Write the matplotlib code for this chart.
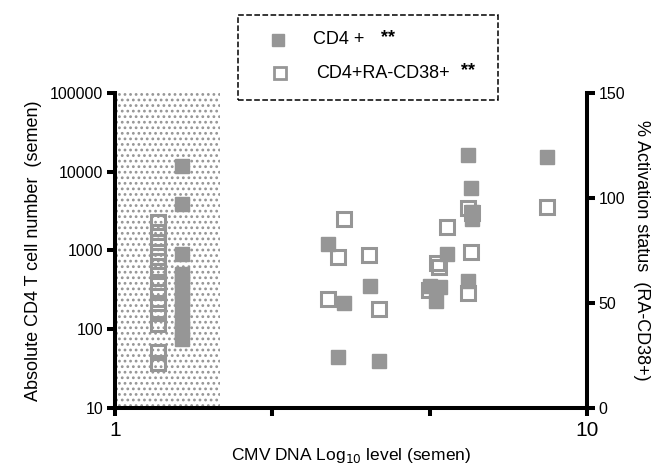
import numpy as np
import matplotlib.pyplot as plt
from matplotlib.patches import Rectangle
from matplotlib.lines import Line2D

plt.rcParams['font.family'] = ['Liberation Sans', 'DejaVu Sans']
plt.rcParams['hatch.linewidth'] = 1.2

# Datos: CD4+ absoluto (eje izquierdo, log)
cd4_x = [2.28] * 11 + [7.73, 9.24, 7.79, 7.81, 7.81, 5.06, 7.33, 5.86,
                       7.01, 7.20, 7.12, 7.73, 5.37, 5.25, 6.03]
cd4_y = [12000, 3900, 900, 500, 410, 300, 240, 180, 130, 100, 75,
         16200, 15600, 6300, 3100, 2500, 1200, 900, 350,
         350, 340, 226, 410, 213, 44, 39]

# Datos: % CD4+RA-CD38+ (eje derecho, lineal)
act_x = [1.82] * 13 + [9.24, 7.73, 7.81, 5.37, 7.33, 5.25, 5.84, 7.79,
                       7.14, 7.18, 6.99, 7.73, 5.06, 6.03]
act_y = [88.5, 84, 79, 74.5, 70, 65, 60, 55, 50, 45, 40, 26.7, 21.4,
         95.7, 95.2, 92.9, 90, 86.2, 71.9, 72.9, 74.3,
         69, 67.1, 56.2, 54.8, 51.9, 47.1]

# Zona bajo el límite de detección
zona = (1, 3)

gris = '#969696'

fig = plt.figure(figsize=(6.59, 4.76), dpi=100)
ax = fig.add_axes([0.1745, 0.1429, 0.7162, 0.6617])
ax2 = ax.twinx()

ax.axvspan(zona[0], zona[1], facecolor='white', edgecolor='#959595',
           hatch='...', linewidth=0, zorder=0)

ax.plot(cd4_x, cd4_y, 's', color=gris, ms=9.5, mec=gris, zorder=3)
ax2.plot(act_x, act_y, 's', mfc='none', mec=gris, ms=9.5, mew=2.2, zorder=3)

ax.set_xlim(1, 10)
ax.set_yscale('log')
ax.set_ylim(10, 100000)
ax.set_yticks([10, 100, 1000, 10000, 100000])
ax.set_yticklabels(['10', '100', '1000', '10000', '100000'])
ax.minorticks_off()
ax.set_xticks([1, 4, 7, 10])
ax.set_xticklabels(['1', '', '', '10'])

ax2.set_ylim(0, 150)
ax2.set_yticks([0, 50, 100, 150])

for a in (ax, ax2):
    a.spines['top'].set_visible(False)
    for s in a.spines.values():
        s.set_linewidth(2.9)
    a.tick_params(width=2.9, length=5.5, direction='out', labelsize=11.5, pad=3)
ax.spines['right'].set_visible(False)
ax2.spines['left'].set_visible(False)
ax2.spines['bottom'].set_visible(False)
ax.tick_params(axis='x', labelsize=15, pad=4)

ax.set_xlabel('CMV DNA Log$_{10}$ level (semen)', fontsize=12.5, labelpad=4)
ax.set_ylabel('Absolute CD4 T cell number  (semen)', fontsize=13, labelpad=6)
ax2.set_ylabel('% Activation status  (RA-CD38+)', fontsize=13,
               rotation=270, labelpad=18)

# Leyenda con borde discontinuo
fig.add_artist(Rectangle((0.361, 0.790), 0.3945, 0.1786, transform=fig.transFigure,
                         fill=False, ls='--', lw=1.1, ec='black'))
fig.add_artist(Line2D([0.4219], [0.916], marker='s', color=gris, ms=8,
                      transform=fig.transFigure))
fig.add_artist(Line2D([0.4249], [0.8466], marker='s', mfc='none', mec=gris,
                      ms=8, mew=2, transform=fig.transFigure))
fig.text(0.475, 0.916, 'CD4 +', fontsize=13, va='center')
fig.text(0.578, 0.922, '**', fontsize=13, va='center', fontweight='bold')
fig.text(0.4795, 0.8466, 'CD4+RA-CD38+', fontsize=13, va='center')
fig.text(0.700, 0.852, '**', fontsize=13, va='center', fontweight='bold')

fig.savefig('out.png', dpi=100)
